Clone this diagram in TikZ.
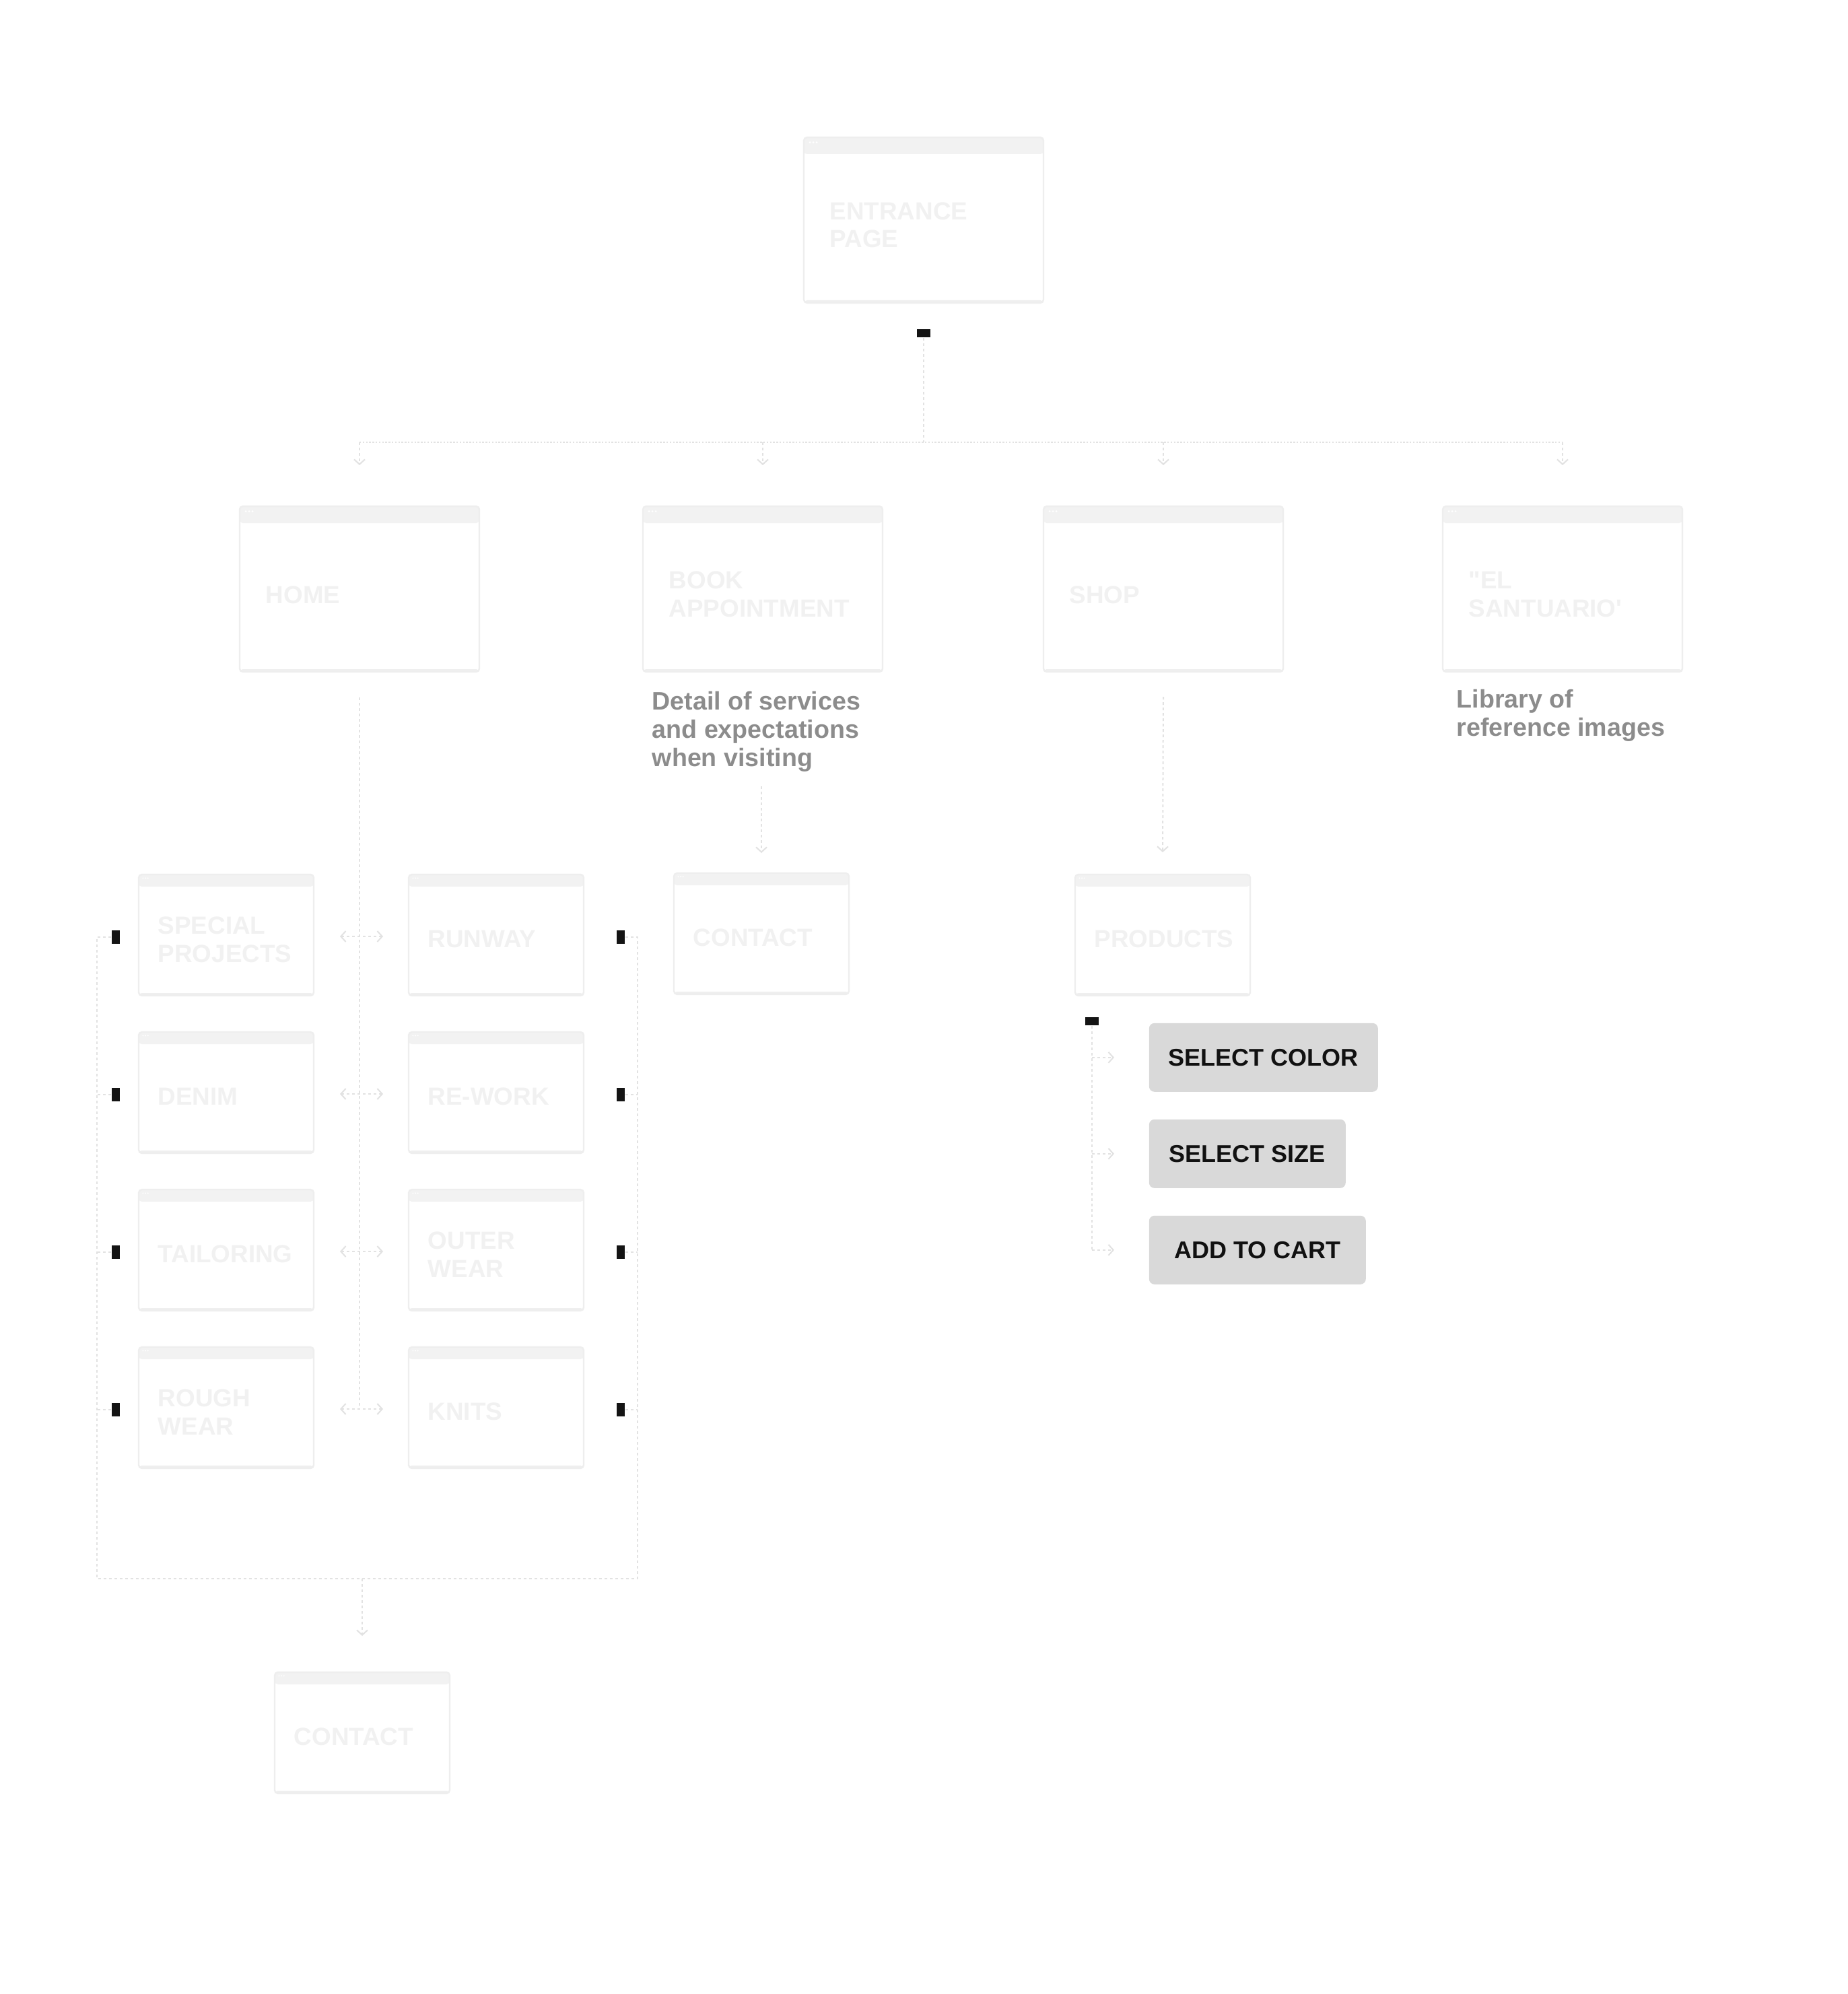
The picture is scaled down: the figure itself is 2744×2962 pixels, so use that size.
\documentclass[tikz,border=0pt]{standalone}
\usepackage{fontspec}
\setmainfont{Liberation Sans}
\newfontfamily\lblfont{Liberation Sans}[Ligatures=TeXOff]
\usetikzlibrary{arrows.meta}
\definecolor{boxline}{HTML}{EEEEEE}
\definecolor{boxhead}{HTML}{F2F2F2}
\definecolor{boxbot}{HTML}{EFEFEF}
\definecolor{lbltext}{HTML}{F1F1F1}
\definecolor{connc}{HTML}{E2E2E2}
\definecolor{annotc}{HTML}{8C8C8C}
\definecolor{btnfill}{HTML}{D9D9D9}
\definecolor{btntext}{HTML}{111111}
\definecolor{markc}{HTML}{141414}
\tikzset{
  winbase/.style={draw=boxline, line width=0.6pt, fill=white, rounded corners=1.2pt,
    anchor=north west, inner sep=0pt, outer sep=0pt,
    path picture={
      \fill[boxhead] (path picture bounding box.north west) rectangle ([yshift=-#1]path picture bounding box.north east);
      \fill[boxbot] (path picture bounding box.south west) rectangle ([yshift=1pt]path picture bounding box.south east);
      \foreach \k in {0,1,2}
        \fill[white] ([xshift={0.36*#1+\k*0.2*#1}, yshift={-0.3*#1}]path picture bounding box.north west) circle[radius={0.06*#1}];
    }},
  bigwin/.style={winbase=6.25pt, minimum width=89pt, minimum height=61.5pt},
  smallwin/.style={winbase=4.5pt, minimum width=65pt, minimum height=45pt},
  lbl/.style={font=\lblfont\bfseries\fontsize{9.2}{10.4}\selectfont, text=lbltext, anchor=base west, align=left, inner sep=0pt},
  annot/.style={font=\bfseries\fontsize{9.4}{10.5}\selectfont, text=annotc, anchor=base west, align=left, inner sep=0pt},
  btn/.style={fill=btnfill, rounded corners=2pt, minimum height=25.5pt, inner sep=0pt, anchor=north west,
    font=\bfseries\fontsize{9}{10}\selectfont, text=btntext},
  hmark/.style={fill=markc, inner sep=0pt, minimum width=5pt, minimum height=3pt},
  vmark/.style={fill=markc, inner sep=0pt, minimum width=3pt, minimum height=5pt},
  conn/.style={draw=connc, line width=0.5pt, dash pattern=on 1pt off 1pt},
  dotconn/.style={draw=connc, line width=0.5pt, dash pattern=on 0.6pt off 0.6pt},
  tip/.style={-{Straight Barb[length=1.8pt,width=4pt]}},
  twotip/.style={{Straight Barb[length=1.8pt,width=4pt]}-{Straight Barb[length=1.8pt,width=4pt]}},
}
\begin{document}
\begin{tikzpicture}[x=0.25pt,y=-0.25pt]
\fill[white] (0,0) rectangle (2744,2962);
\useasboundingbox (0,0) rectangle (2744,2962);

% ---- top level
\node[bigwin] (entrance) at (1194,204) {};
\node[lbl] (entranceT) at ([xshift=9.5pt,yshift=-41pt]entrance.north west) {ENTRANCE\\PAGE};
\node[hmark] (m0) at ([yshift=-11.25pt]entrance.south) {};

% ---- second level
\node[bigwin] (home) at (356,752) {};
\node[bigwin] (book) at (955,752) {};
\node[bigwin] (shop) at (1550,752) {};
\node[bigwin] (sant) at (2143,752) {};
\node[lbl] (homeT) at ([xshift=9.5pt,yshift=-36pt]home.north west) {HOME};
\node[lbl] (bookT) at ([xshift=9.5pt,yshift=-41pt]book.north west) {BOOK\\APPOINTMENT};
\node[lbl] (shopT) at ([xshift=9.5pt,yshift=-36pt]shop.north west) {SHOP};
\node[lbl] (santT) at ([xshift=9.5pt,yshift=-41pt]sant.north west) {"EL\\SANTUARIO'};

\node[annot] (bookA) at ([xshift=3.25pt,yshift=-35pt]book.south west) {Detail of services\\and expectations\\when visiting};
\node[annot] (santA) at ([xshift=5pt,yshift=-23.75pt]sant.south west) {Library of\\reference images};

\coordinate (tl) at ([yshift=23.75pt]home.north);
\draw[conn] (m0.south) -- (m0.south |- tl);
\draw[dotconn] (tl) -- (tl -| sant.north);
\foreach \b in {home,book,shop,sant}
  \draw[conn,tip] (\b.north |- tl) -- ([yshift=15.25pt]\b.north);

% ---- third level
\node[smallwin] (sp) at (206,1299) {};
\node[smallwin] (runway) at (607,1299) {};
\node[smallwin] (denim) at (206,1533) {};
\node[smallwin] (rework) at (607,1533) {};
\node[smallwin] (tailor) at (206,1767) {};
\node[smallwin] (outer) at (607,1767) {};
\node[smallwin] (rough) at (206,2001) {};
\node[smallwin] (knits) at (607,2001) {};
\node[smallwin] (contactA) at (1001,1297) {};
\node[smallwin] (products) at (1597,1299) {};
\node[smallwin] (contactB) at (408,2484) {};

\node[lbl] (spT) at ([xshift=7pt,yshift=-32.5pt]sp.north west) {SPECIAL\\PROJECTS};
\node[lbl] (runwayT) at ([xshift=7pt,yshift=-27pt]runway.north west) {RUNWAY};
\node[lbl] (denimT) at ([xshift=7pt,yshift=-27pt]denim.north west) {DENIM};
\node[lbl] (reworkT) at ([xshift=7pt,yshift=-27pt]rework.north west) {RE-WORK};
\node[lbl] (tailorT) at ([xshift=7pt,yshift=-27pt]tailor.north west) {TAILORING};
\node[lbl] (outerT) at ([xshift=7pt,yshift=-32.5pt]outer.north west) {OUTER\\WEAR};
\node[lbl] (roughT) at ([xshift=7pt,yshift=-32.5pt]rough.north west) {ROUGH\\WEAR};
\node[lbl] (knitsT) at ([xshift=7pt,yshift=-27pt]knits.north west) {KNITS};
\node[lbl] (contactAT) at ([xshift=7pt,yshift=-27pt]contactA.north west) {CONTACT};
\node[lbl] (productsT) at ([xshift=7pt,yshift=-27pt]products.north west) {PRODUCTS};
\node[lbl] (contactBT) at ([xshift=7pt,yshift=-27pt]contactB.north west) {CONTACT};

\draw[conn,tip] ([yshift=32.25pt]contactA.north) -- ([yshift=7.5pt]contactA.north);
\draw[conn,tip] ([yshift=-9.25pt]shop.south) -- ([yshift=8.25pt]products.north);

% ---- home grid
\foreach \l/\r [count=\i] in {sp/runway,denim/rework,tailor/outer,rough/knits}{
  \node[vmark] (lm\i) at ([xshift=-8.5pt,yshift=-0.75pt]\l.west) {};
  \node[vmark] (rm\i) at ([xshift=13.75pt,yshift=-0.75pt]\r.east) {};
  \coordinate (da\i) at ([xshift=9.75pt,yshift=-0.5pt]\l.east);
  \draw[conn,twotip] (da\i) -- ([xshift=-9.5pt,yshift=-0.5pt]\r.west);
}
\draw[conn] ([yshift=-9.5pt]home.south) -- (home.south |- da4);
\coordinate (bl) at (144,2345);
\coordinate (br) at (947,2345);
\draw[conn] (lm1.west) -- (lm1.west -| bl) -- (bl) -- (br) -- (rm1.east -| br) -- (rm1.east);
\foreach \i in {2,3,4}{
  \draw[conn] (lm\i.west) -- (lm\i.west -| bl);
  \draw[conn] (rm\i.east) -- (rm\i.east -| br);
}
\draw[conn,tip] (contactB.north |- bl) -- ([yshift=13.5pt]contactB.north);

% ---- products
\node[hmark] (pm) at ([xshift=6.25pt,yshift=-9.5pt]products.south west) {};
\node[btn, minimum width=85pt] (color) at (1706,1519) {SELECT COLOR};
\node[btn, minimum width=73pt] (size) at (1706,1662) {SELECT SIZE};
\node[btn, minimum width=80.5pt] (cart) at (1706,1805) {ADD TO CART};
\draw[conn] (pm.south) -- (pm.south |- cart.west);
\foreach \b in {color,size,cart}
  \draw[conn,tip] (pm.south |- \b.west) -- ([xshift=-12.75pt]\b.west);
\end{tikzpicture}
\end{document}
